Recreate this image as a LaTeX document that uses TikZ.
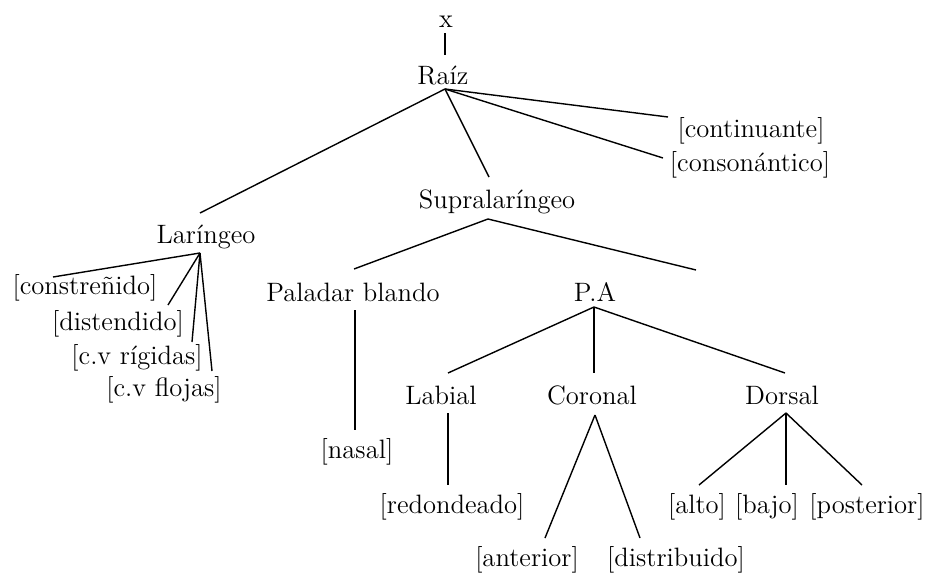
\documentclass[tikz,border=0pt]{standalone}
\usepackage{fontspec}
\begin{document}
\begin{tikzpicture}[x=0.5pt,y=-0.5pt,
  lbl/.style={inner sep=0pt, font=\fontsize{13.3}{15}\selectfont},
  edge/.style={line width=0.7pt}]
\useasboundingbox (0,0) rectangle (927,573);
% nodes
\node[lbl] (x) at (446,22) {x};
\node[lbl] (raiz) at (443,76) {Raíz};
\node[lbl] (cont) at (751,131) {[continuante]};
\node[lbl] (cons) at (750,165) {[consonántico]};
\node[lbl] (lar) at (206,237) {Laríngeo};
\node[lbl] (supra) at (497,202) {Supralaríngeo};
\node[lbl] (c1) at (85,288) {[constreñido]};
\node[lbl] (c2) at (118,324) {[distendido]};
\node[lbl] (c3) at (137,358) {[c.v rígidas]};
\node[lbl] (c4) at (164,390) {[c.v flojas]};
\node[lbl] (pal) at (353,292) {Paladar blando};
\node[lbl] (pa) at (595,292) {P.A};
\node[lbl] (nasal) at (357,452) {[nasal]};
\node[lbl] (lab) at (441,395) {Labial};
\node[lbl] (cor) at (592,395) {Coronal};
\node[lbl] (dor) at (782,395) {Dorsal};
\node[lbl] (red) at (452,507) {[redondeado]};
\node[lbl] (ant) at (527,560) {[anterior]};
\node[lbl] (dist) at (676,560) {[distribuido]};
\node[lbl] (alto) at (697,507) {[alto]};
\node[lbl] (bajo) at (767,507) {[bajo]};
\node[lbl] (post) at (867,507) {[posterior]};
% attachment points
\coordinate (xB) at (445,33);
\coordinate (raizT) at (445,55);
\coordinate (raizB) at (445,89);
\coordinate (contL) at (668,117);
\coordinate (consL) at (663,158);
\coordinate (larT) at (200,213);
\coordinate (larB) at (200,253);
\coordinate (supraT) at (489,177);
\coordinate (supraB) at (488,219);
\coordinate (c1T) at (53,277);
\coordinate (c2T) at (168,305);
\coordinate (c3T) at (192,342);
\coordinate (c4T) at (212,371);
\coordinate (palT) at (354,269);
\coordinate (palB) at (355,310);
\coordinate (paB) at (594,307);
\coordinate (supraR) at (696,270);
\coordinate (nasalT) at (355,430);
\coordinate (labT) at (448,373);
\coordinate (labB) at (448,413);
\coordinate (corT) at (594,373);
\coordinate (corB) at (595,415);
\coordinate (dorT) at (785,373);
\coordinate (dorB) at (786,413);
\coordinate (redT) at (448,485);
\coordinate (antT) at (545,538);
\coordinate (distT) at (640,538);
\coordinate (altoT) at (699,485);
\coordinate (bajoT) at (786,485);
\coordinate (postT) at (862,485);
% connectors
\draw[edge] (xB) -- (raizT);
\draw[edge] (raizB) -- (larT);
\draw[edge] (raizB) -- (supraT);
\draw[edge] (raizB) -- (consL);
\draw[edge] (raizB) -- (contL);
\draw[edge] (larB) -- (c1T);
\draw[edge] (larB) -- (c2T);
\draw[edge] (larB) -- (c3T);
\draw[edge] (larB) -- (c4T);
\draw[edge] (supraB) -- (palT);
\draw[edge] (supraB) -- (supraR);
\draw[edge] (palB) -- (nasalT);
\draw[edge] (paB) -- (labT);
\draw[edge] (paB) -- (corT);
\draw[edge] (paB) -- (dorT);
\draw[edge] (labB) -- (redT);
\draw[edge] (corB) -- (antT);
\draw[edge] (corB) -- (distT);
\draw[edge] (dorB) -- (altoT);
\draw[edge] (dorB) -- (bajoT);
\draw[edge] (dorB) -- (postT);
\end{tikzpicture}
\end{document}
